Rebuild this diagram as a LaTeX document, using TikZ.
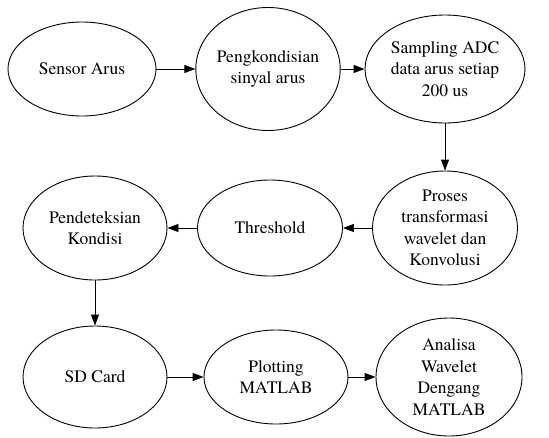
\documentclass[tikz,border=0pt]{standalone}
\usepackage{fontspec}
\newfontfamily\labelfont{texgyretermes}[Extension=.otf, UprightFont=*-regular]
\usetikzlibrary{shapes.geometric,arrows.meta}
\begin{document}
\begin{tikzpicture}[x=1pt,y=-1pt,
  stage/.style={ellipse, draw, line width=0.9pt, inner sep=0pt, align=center,
    font=\labelfont\fontsize{17.5}{21.5}\selectfont},
  flow/.style={-{Triangle[length=11pt,width=8pt]}, line width=0.9pt}]
\useasboundingbox (0,0) rectangle (549,437);

% first row
\node[stage, minimum width=148, minimum height=94]  (sensor) at (82,69)  {Sensor Arus};
\node[stage, minimum width=143, minimum height=123] (kond)   at (268,69) {Pengkondisian\\sinyal arus};
\node[stage, minimum width=160, minimum height=108] (adc)    at (445,69) {Sampling ADC\\data arus setiap\\200 us};

% second row
\node[stage, minimum width=145, minimum height=114] (wave)   at (445,228) {Proses\\transformasi\\wavelet dan\\Konvolusi};
\node[stage, minimum width=145, minimum height=96]  (thr)    at (270,228) {Threshold};
\node[stage, minimum width=144, minimum height=104] (detect) at (95,228)  {Pendeteksian\\Kondisi};

% third row
\node[stage, minimum width=144, minimum height=102] (sd)     at (95,377)  {SD Card};
\node[stage, minimum width=144, minimum height=94]  (plot)   at (276,377) {Plotting\\MATLAB};
\node[stage, minimum width=146, minimum height=118] (anal)   at (449,377) {Analisa\\Wavelet\\Dengang\\MATLAB};

% connectors
\draw[flow] (sensor) -- (kond);
\draw[flow] (kond) -- (adc);
\draw[flow] (adc) -- (wave);
\draw[flow] (wave) -- (thr);
\draw[flow] (thr) -- (detect);
\draw[flow] (detect) -- (sd);
\draw[flow] (sd) -- (plot);
\draw[flow] (plot) -- (anal);
\end{tikzpicture}
\end{document}
